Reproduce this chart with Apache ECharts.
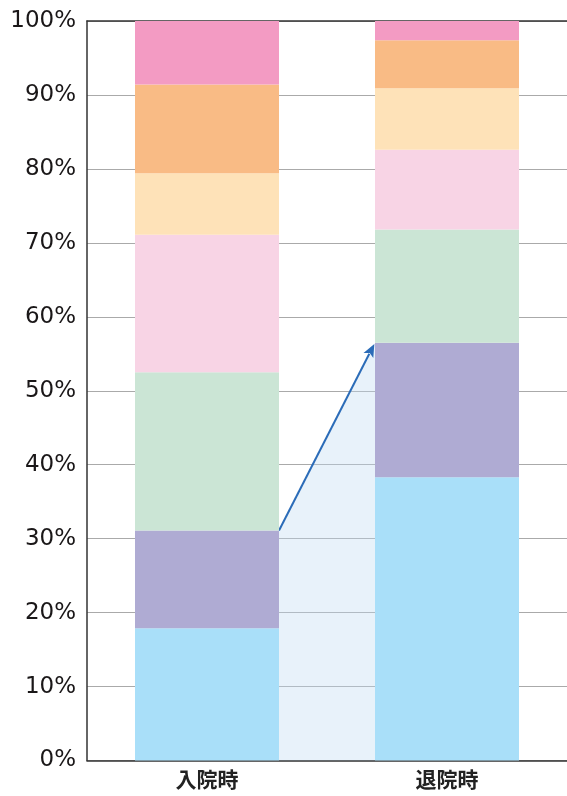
<!DOCTYPE html>
<html>
<head>
<meta charset="utf-8">
<script src="https://cdn.jsdelivr.net/npm/echarts@6/dist/echarts.min.js"></script>
<style>
  html, body { margin: 0; padding: 0; background: #fff; }
  #chart { width: 567px; height: 796px; }
</style>
</head>
<body>
<div id="chart"></div>
<script>
// Categories (admission / discharge)
const categories = ['入院時', '退院時'];

// Share of each group, bottom to top, in percent
const group1 = [17.9, 38.3];
const group2 = [13.2, 18.2];
const group3 = [21.4, 15.3];
const group4 = [18.6, 10.8];
const group5 = [8.3, 8.3];
const group6 = [12.0, 6.5];
const group7 = [8.6, 2.6];

const yTicks = [0, 10, 20, 30, 40, 50, 60, 70, 80, 90, 100];

const groups = [group1, group2, group3, group4, group5, group6, group7];
const colors = ['#a9dff9', '#afabd3', '#cbe5d5', '#f8d4e5', '#fee2b8', '#f9bb85', '#f39bc3'];

// Top of the two lowest groups for each bar: the arrow runs between these
const baseTop = categories.map((_, i) => group1[i] + group2[i]);

const BAR_RATIO = 0.6;

const barSeries = groups.map((g, k) => ({
  name: 'group' + (k + 1),
  type: 'bar',
  stack: 'total',
  barWidth: (BAR_RATIO * 100) + '%',
  data: g,
  itemStyle: { color: colors[k] },
  z: 3
}));

// Shaded band plus arrow from the first bar's edge to the second bar's edge
const bridgeSeries = {
  type: 'custom',
  z: 2,
  data: [[0, baseTop[0], baseTop[1]]],
  encode: { x: 0, y: 1 },
  renderItem: function (params, api) {
    const band = api.size([1, 0])[0];
    const half = band * BAR_RATIO / 2;
    const p0 = api.coord([0, api.value(1)]);
    const p1 = api.coord([1, api.value(2)]);
    const z0 = api.coord([0, 0]);
    const x0 = p0[0] + half;
    const x1 = p1[0] - half;
    const y0 = p0[1];
    const y1 = p1[1];
    const yb = z0[1];
    // arrow head
    const dx = x1 - x0, dy = y1 - y0;
    const len = Math.sqrt(dx * dx + dy * dy);
    const ux = dx / len, uy = dy / len;
    const headL = 13, headW = 5.5;
    const tipX = x1 - ux * 1.5, tipY = y1 - uy * 1.5;
    const bx = tipX - ux * headL, by = tipY - uy * headL;
    return {
      type: 'group',
      children: [
        {
          type: 'polygon',
          shape: { points: [[x0, y0], [x1, y1], [x1, yb], [x0, yb]] },
          style: { fill: 'rgba(190,220,240,0.36)' }
        },
        {
          type: 'line',
          shape: { x1: x0, y1: y0, x2: bx + ux * 2, y2: by + uy * 2 },
          style: { stroke: '#2b6cb8', lineWidth: 2 }
        },
        {
          type: 'polygon',
          shape: { points: [
            [tipX, tipY],
            [bx - uy * headW, by + ux * headW],
            [bx + ux * 3, by + uy * 3],
            [bx + uy * headW, by - ux * headW]
          ] },
          style: { fill: '#2b6cb8' }
        }
      ]
    };
  }
};

const chart = echarts.init(document.getElementById('chart'), null, { renderer: 'canvas' });
chart.setOption({
  animation: false,
  backgroundColor: '#ffffff',
  grid: { left: 87, right: -2, top: 21, bottom: 35.5 },
  xAxis: [
    {
      type: 'category',
      data: categories,
      axisLine: { lineStyle: { color: '#333', width: 1.5 } },
      axisTick: { show: false },
      axisLabel: {
        color: '#222',
        fontSize: 21,
        fontWeight: 'bold',
        fontFamily: '"Noto Sans CJK JP", sans-serif',
        margin: 8
      }
    },
    {
      type: 'category',
      position: 'top',
      data: categories,
      axisLine: { lineStyle: { color: '#333', width: 1.5 } },
      axisTick: { show: false },
      axisLabel: { show: false }
    }
  ],
  yAxis: {
    type: 'value',
    min: yTicks[0],
    max: yTicks[yTicks.length - 1],
    interval: yTicks[1] - yTicks[0],
    axisLine: { show: true, lineStyle: { color: '#333', width: 1.5 } },
    axisTick: { show: false },
    splitLine: { lineStyle: { color: '#aaaaaa', width: 1 } },
    axisLabel: {
      formatter: '{value}%',
      color: '#1a1718',
      fontSize: 23,
      fontFamily: '"DejaVu Sans", sans-serif',
      margin: 11
    }
  },
  series: [bridgeSeries].concat(barSeries)
});
</script>
</body>
</html>
